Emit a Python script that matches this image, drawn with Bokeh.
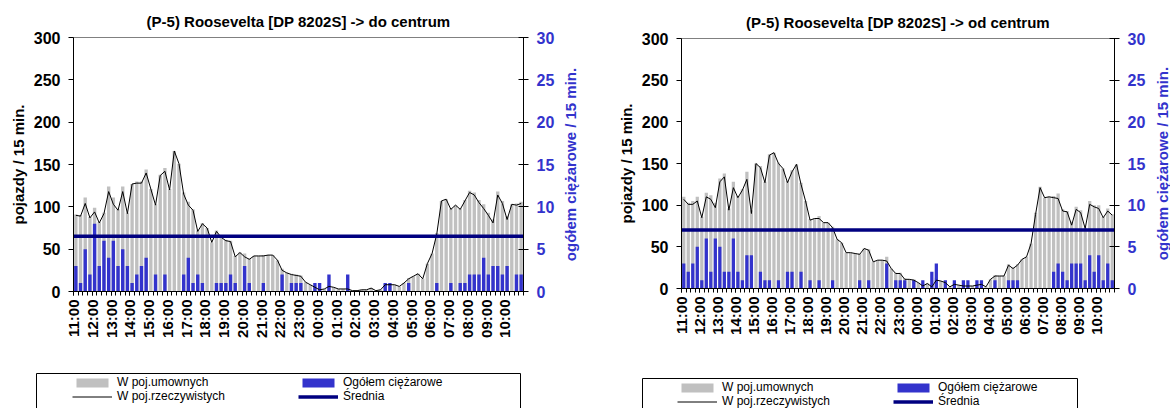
import math
from bokeh.plotting import figure
from bokeh.models import Range1d, LinearAxis, FixedTicker, Legend, LegendItem, BoxAnnotation, Label
from bokeh.layouts import row, column
from bokeh.embed import file_html
from bokeh.resources import INLINE

HOURS = ["11:00", "12:00", "13:00", "14:00", "15:00", "16:00", "17:00", "18:00",
         "19:00", "20:00", "21:00", "22:00", "23:00", "00:00", "01:00", "02:00",
         "03:00", "04:00", "05:00", "06:00", "07:00", "08:00", "09:00", "10:00"]
LEFT_TICKS = [0, 50, 100, 150, 200, 250, 300]
RIGHT_TICKS = [0, 5, 10, 15, 20, 25, 30]

# (P-5) -> do centrum
DO_REAL = [90, 89, 104, 87, 94, 81, 92, 118, 103, 96, 118, 92, 127, 128, 128, 140,
           121, 102, 137, 142, 120, 166, 151, 115, 102, 96, 71, 80, 75, 58, 71, 64,
           60, 59, 41, 46, 41, 38, 42, 42, 42, 43, 43, 37, 25, 22, 20, 19,
           18, 11, 8, 5, 2, 3, 6, 5, 3, 3, 3, 1, 1, 2, 2, 4,
           1, 2, 8, 8, 8, 6, 10, 15, 18, 21, 15, 33, 45, 68, 107, 109,
           97, 102, 97, 107, 117, 114, 105, 98, 90, 81, 114, 104, 85, 103, 102, 104]
DO_PCU = [91, 90, 111, 88, 99, 82, 93, 124, 111, 97, 124, 93, 127, 130, 130, 144,
          121, 103, 138, 146, 121, 166, 151, 117, 106, 97, 72, 81, 75, 58, 72, 65,
          61, 60, 42, 46, 45, 39, 42, 42, 43, 43, 43, 37, 27, 22, 21, 20,
          19, 11, 8, 6, 3, 3, 8, 5, 3, 3, 5, 1, 1, 2, 2, 4,
          1, 2, 9, 9, 8, 6, 10, 16, 18, 21, 15, 33, 45, 69, 107, 109,
          98, 102, 98, 108, 119, 117, 108, 103, 93, 85, 118, 107, 89, 103, 104, 106]
DO_HGV = [3, 1, 5, 2, 8, 3, 6, 4, 6, 3, 5, 3, 1, 2, 3, 4,
          0, 2, 0, 2, 0, 0, 0, 2, 4, 1, 2, 1, 0, 0, 1, 1,
          1, 2, 1, 0, 3, 1, 0, 0, 1, 0, 0, 0, 2, 0, 1, 1,
          1, 0, 0, 1, 1, 0, 2, 0, 0, 0, 2, 0, 0, 0, 0, 0,
          0, 0, 1, 1, 0, 0, 0, 1, 0, 0, 0, 0, 0, 1, 0, 0,
          1, 0, 1, 1, 2, 2, 2, 4, 2, 3, 3, 2, 3, 0, 2, 2]
DO_MEAN = 65.3

# (P-5) -> od centrum
OD_REAL = [107, 101, 101, 105, 85, 110, 107, 97, 128, 134, 94, 121, 109, 118, 131, 90,
           150, 145, 127, 160, 163, 150, 144, 127, 140, 149, 125, 105, 82, 84, 84, 79,
           79, 73, 59, 55, 43, 43, 42, 41, 48, 46, 32, 34, 34, 33, 24, 18,
           18, 11, 11, 10, 7, 3, 6, 2, 10, 9, 7, 2, 5, 4, 3, 3,
           3, 4, 5, 2, 11, 15, 15, 15, 28, 24, 28, 35, 38, 54, 89, 121,
           109, 110, 109, 108, 93, 92, 76, 95, 91, 72, 101, 98, 96, 85, 93, 88]
OD_PCU = [110, 103, 105, 110, 86, 115, 112, 103, 132, 138, 96, 128, 111, 119, 140, 94,
          150, 147, 128, 161, 163, 151, 144, 129, 142, 149, 127, 105, 83, 84, 87, 79,
          79, 74, 59, 55, 43, 43, 42, 42, 48, 47, 32, 34, 34, 38, 24, 19,
          19, 12, 11, 11, 7, 4, 6, 4, 13, 9, 8, 2, 6, 4, 4, 4,
          3, 5, 6, 2, 11, 16, 15, 15, 29, 25, 29, 35, 38, 54, 91, 122,
          109, 110, 111, 114, 95, 93, 80, 98, 94, 73, 105, 100, 100, 86, 96, 89]
OD_HGV = [3, 2, 3, 5, 1, 6, 2, 6, 5, 2, 2, 6, 2, 1, 4, 4,
          0, 2, 1, 1, 0, 1, 0, 2, 2, 0, 2, 0, 1, 0, 1, 0,
          0, 1, 0, 0, 0, 0, 0, 1, 0, 1, 0, 0, 0, 3, 0, 1,
          1, 1, 0, 1, 0, 1, 0, 2, 3, 0, 1, 0, 1, 0, 1, 1,
          0, 1, 1, 0, 0, 1, 0, 0, 1, 1, 1, 0, 0, 0, 0, 0,
          0, 0, 2, 3, 2, 1, 3, 3, 3, 1, 4, 2, 4, 1, 3, 1]
OD_MEAN = 70.2

LEGEND_LABELS = ["W poj.umownych", "W poj.rzeczywistych", "Ogółem ciężarowe", "Średnia"]
LEFT_LABEL = "pojazdy / 15 min."
RIGHT_LABEL = "ogółem ciężarowe / 15 min."

FONT = "Liberation Sans"
GRAY = "#C0C0C0"
BLUE = "#3333CC"
NAVY = "#000080"
CHART_H = 362
LEG_H = 46


def no_align(fig):
    try:
        fig.frame_align = False
    except AttributeError:
        pass


def make_chart(title, real, pcu, hgv, mean, width, mbl, mbr, mbt, mbb):
    n = len(real)
    xs = [i + 0.5 for i in range(n)]
    p = figure(width=width, height=CHART_H, x_range=Range1d(0, n),
               y_range=Range1d(LEFT_TICKS[0], LEFT_TICKS[-1]),
               output_backend="svg", toolbar_location=None,
               min_border_left=mbl, min_border_right=mbr,
               min_border_top=mbt, min_border_bottom=mbb)
    no_align(p)
    p.extra_y_ranges = {"hgv": Range1d(RIGHT_TICKS[0], RIGHT_TICKS[-1])}
    p.xgrid.visible = False
    p.ygrid.visible = False
    p.outline_line_color = "#808080"
    p.outline_line_width = 1
    p.background_fill_color = "white"
    p.border_fill_color = "white"

    p.title.text = title
    p.title.align = "center"
    p.title.text_font = FONT
    p.title.text_font_size = "15px"
    p.title.text_font_style = "bold"
    p.title.text_color = "black"
    p.title.standoff = 15

    xa = p.xaxis[0]
    xa.ticker = FixedTicker(ticks=[4 * k for k in range(len(HOURS))],
                            minor_ticks=list(range(n + 1)))
    xa.major_label_overrides = {4 * k: h for k, h in enumerate(HOURS)}
    xa.major_label_orientation = math.pi / 2
    xa.major_label_text_font = FONT
    xa.major_label_text_font_size = "15px"
    xa.major_label_text_font_style = "bold"
    xa.major_label_text_color = "black"
    xa.major_tick_in = 0
    xa.major_tick_out = 4
    xa.minor_tick_in = 0
    xa.minor_tick_out = 4
    xa.major_label_standoff = 4
    xa.axis_line_color = "black"

    ya = p.yaxis[0]
    ya.ticker = FixedTicker(ticks=LEFT_TICKS)
    ya.major_label_text_font = FONT
    ya.major_label_text_font_size = "16px"
    ya.major_label_text_font_style = "bold"
    ya.major_label_text_color = "black"
    ya.major_tick_in = 0
    ya.major_tick_out = 5
    ya.minor_tick_line_color = None
    ya.major_label_standoff = 8
    ya.axis_label = LEFT_LABEL
    ya.axis_label_text_font = FONT
    ya.axis_label_text_font_size = "15px"
    ya.axis_label_text_font_style = "bold"
    ya.axis_label_text_color = "black"
    ya.axis_label_standoff = 4

    ra = LinearAxis(y_range_name="hgv", ticker=FixedTicker(ticks=RIGHT_TICKS))
    ra.major_label_text_font = FONT
    ra.major_label_text_font_size = "16px"
    ra.major_label_text_font_style = "bold"
    ra.major_label_text_color = BLUE
    ra.major_tick_in = 5
    ra.major_tick_out = 5
    ra.minor_tick_line_color = None
    ra.major_label_standoff = 8
    p.add_layout(ra, "right")

    p.vbar(x=xs, top=pcu, width=0.72, fill_color=GRAY, line_color=None)
    p.vbar(x=xs, top=hgv, width=0.72, fill_color=BLUE, line_color=None,
           y_range_name="hgv")
    p.line(x=xs, y=real, line_color="black", line_width=1)
    p.line(x=[0, n], y=[mean, mean], line_color=NAVY, line_width=3.5)
    return p


def make_strip(width, mbt, mbb, label_x):
    """Narrow area holding the right axis title, reading bottom-to-top."""
    s = figure(width=width, height=CHART_H, x_range=Range1d(0, width), y_range=Range1d(0, 1),
               x_axis_type=None, y_axis_type=None, output_backend="svg",
               toolbar_location=None, min_border_left=0, min_border_right=0,
               min_border_top=mbt, min_border_bottom=mbb)
    no_align(s)
    s.outline_line_color = None
    s.xgrid.visible = False
    s.ygrid.visible = False
    s.add_layout(Label(x=label_x, y=0.5, text=RIGHT_LABEL, angle=math.pi / 2,
                       text_align="center", text_baseline="middle",
                       text_font=FONT, text_font_size="15px", text_font_style="bold",
                       text_color=BLUE))
    return s


def make_legend(width, real, pcu, hgv, mean, box, col_vx, vy):
    n = len(real)
    xs = [i + 0.5 for i in range(n)]
    # the series are drawn outside the visible range: only legend samples show
    lp = figure(width=width, height=LEG_H, x_range=Range1d(-2, -1), y_range=Range1d(-2, -1),
                x_axis_type=None, y_axis_type=None, output_backend="svg",
                toolbar_location=None, min_border=0, min_border_left=0,
                min_border_right=0, min_border_top=0, min_border_bottom=0)
    no_align(lp)
    lp.outline_line_color = None
    lp.xgrid.visible = False
    lp.ygrid.visible = False
    bl, br, bt = box
    lp.add_layout(BoxAnnotation(left=bl, right=br, top=bt, bottom=LEG_H + 20,
                                left_units="canvas", right_units="canvas",
                                top_units="canvas", bottom_units="canvas",
                                fill_color="white", fill_alpha=1.0,
                                line_color="black", line_width=1, line_alpha=1.0))
    g1 = lp.vbar(x=xs, top=pcu, width=0.72, fill_color=GRAY, line_color=None)
    g2 = lp.line(x=xs, y=real, line_color="black", line_width=1)
    g3 = lp.vbar(x=xs, top=hgv, width=0.72, fill_color=BLUE, line_color=None)
    g4 = lp.line(x=[0, n], y=[mean, mean], line_color=NAVY, line_width=3.5)
    cols = [[(LEGEND_LABELS[0], g1), (LEGEND_LABELS[1], g2)],
            [(LEGEND_LABELS[2], g3), (LEGEND_LABELS[3], g4)]]
    for vx, items in zip(col_vx, cols):
        lg = Legend(items=[LegendItem(label=t, renderers=[r]) for t, r in items],
                    location=(vx, vy), orientation="vertical",
                    glyph_width=40, glyph_height=11, label_standoff=5,
                    label_height=14, label_width=60, spacing=0, padding=0,
                    margin=0, border_line_alpha=0, background_fill_alpha=0,
                    label_text_font=FONT, label_text_font_size="12px",
                    label_text_color="black", label_text_baseline="middle")
        lp.add_layout(lg, "center")
    return lp


left = make_chart("(P-5) Roosevelta [DP 8202S] -> do centrum", DO_REAL, DO_PCU, DO_HGV,
                  DO_MEAN, 558, 73, 35, 37, CHART_H - 291)
left_strip = make_strip(52, 37, CHART_H - 291, 12)
left_leg = make_legend(610, DO_REAL, DO_PCU, DO_HGV, DO_MEAN, (36, 520, 11), (72, 298), 5)

right = make_chart("(P-5) Roosevelta [DP 8202S] -> od centrum", OD_REAL, OD_PCU, OD_HGV,
                   OD_MEAN, 540, 71, 36, 38, CHART_H - 288)
right_strip = make_strip(20, 38, CHART_H - 288, 12)
right_leg = make_legend(560, OD_REAL, OD_PCU, OD_HGV, OD_MEAN, (32, 467, 16), (67, 283), 0)

layout = row(column(row(left, left_strip), left_leg),
             column(row(right, right_strip), right_leg))
open("out.html", "w").write(file_html(layout, INLINE))
